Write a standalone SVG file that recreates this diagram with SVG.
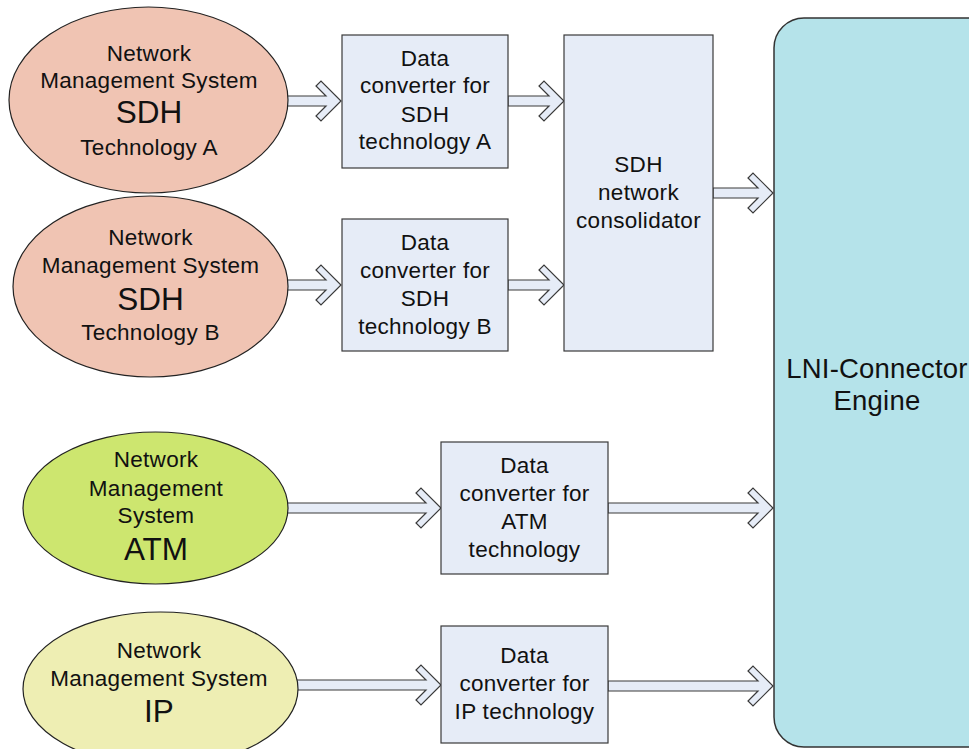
<svg xmlns="http://www.w3.org/2000/svg" width="969" height="749" viewBox="0 0 969 749">
<style>
text{font-family:"Liberation Sans",Arial,sans-serif;fill:#111;text-anchor:middle}
.s{font-size:22.5px;letter-spacing:0.3px}
.b{font-size:31.5px}
.l{font-size:27.5px;letter-spacing:0.2px}
.arr{fill:#e6ecf7;stroke:#3a3a3a;stroke-width:1.2;stroke-linejoin:miter}
.box{fill:#e6ecf7;stroke:#3a3a3a;stroke-width:1.2}
.sdh{fill:#f0c4b3;stroke:#222;stroke-width:1.2}
.atm{fill:#cde66f;stroke:#222;stroke-width:1.2}
.ip{fill:#eeeeb3;stroke:#222;stroke-width:1.2}
.lni{fill:#b5e3ea;stroke:#333;stroke-width:1.5}
</style>
<rect width="969" height="749" fill="#fff"/>
<g id="connectors">
<path class="arr" d="M280,96 L326,96 L316,86 L321,81 L341,101 L321,121 L316,116 L326,106 L280,106 Z"/>
<path class="arr" d="M508,96 L549,96 L539,86 L544,81 L564,101 L544,121 L539,116 L549,106 L508,106 Z"/>
<path class="arr" d="M280,280 L326,280 L316,270 L321,265 L341,285 L321,305 L316,300 L326,290 L280,290 Z"/>
<path class="arr" d="M508,280 L549,280 L539,270 L544,265 L564,285 L544,305 L539,300 L549,290 L508,290 Z"/>
<path class="arr" d="M713,188 L758,188 L748,178 L753,173 L773,193 L753,213 L748,208 L758,198 L713,198 Z"/>
<path class="arr" d="M280,503 L426,503 L416,493 L421,488 L441,508 L421,528 L416,523 L426,513 L280,513 Z"/>
<path class="arr" d="M608,503 L758,503 L748,493 L753,488 L773,508 L753,528 L748,523 L758,513 L608,513 Z"/>
<path class="arr" d="M290,680 L426,680 L416,670 L421,665 L441,685 L421,705 L416,700 L426,690 L290,690 Z"/>
<path class="arr" d="M608,681 L758,681 L748,671 L753,666 L773,686 L753,706 L748,701 L758,691 L608,691 Z"/>
</g>
<g id="nms-sdh-a">
<ellipse class="sdh" cx="148.5" cy="100" rx="139.5" ry="93"/>
<text class="s" x="149" y="61">Network</text>
<text class="s" x="149" y="88">Management System</text>
<text class="b" x="149" y="123">SDH</text>
<text class="s" x="149" y="155">Technology A</text>
</g>
<g id="nms-sdh-b">
<ellipse class="sdh" cx="150.5" cy="286.5" rx="137.5" ry="90.5"/>
<text class="s" x="150.5" y="245">Network</text>
<text class="s" x="150.5" y="273">Management System</text>
<text class="b" x="150.5" y="310">SDH</text>
<text class="s" x="150.5" y="340">Technology B</text>
</g>
<g id="nms-atm">
<ellipse class="atm" cx="155.5" cy="508" rx="132.5" ry="76"/>
<text class="s" x="156" y="467">Network</text>
<text class="s" x="156" y="496">Management</text>
<text class="s" x="156" y="523">System</text>
<text class="b" x="156" y="560">ATM</text>
</g>
<g id="nms-ip">
<ellipse class="ip" cx="160.5" cy="689" rx="137.5" ry="77"/>
<text class="s" x="159" y="658">Network</text>
<text class="s" x="159" y="686">Management System</text>
<text class="b" x="159" y="722">IP</text>
</g>
<g id="conv-sdh-a">
<rect class="box" x="342" y="35" width="166" height="133"/>
<text class="s" x="425" y="66">Data</text>
<text class="s" x="425" y="93">converter for</text>
<text class="s" x="425" y="122">SDH</text>
<text class="s" x="425" y="149">technology A</text>
</g>
<g id="conv-sdh-b">
<rect class="box" x="342" y="219" width="166" height="132"/>
<text class="s" x="425" y="250">Data</text>
<text class="s" x="425" y="278">converter for</text>
<text class="s" x="425" y="306">SDH</text>
<text class="s" x="425" y="334">technology B</text>
</g>
<g id="sdh-consolidator">
<rect class="box" x="564" y="35" width="149" height="316"/>
<text class="s" x="638.5" y="172">SDH</text>
<text class="s" x="638.5" y="200">network</text>
<text class="s" x="638.5" y="228">consolidator</text>
</g>
<g id="conv-atm">
<rect class="box" x="441" y="442" width="167" height="132"/>
<text class="s" x="524.5" y="473">Data</text>
<text class="s" x="524.5" y="501">converter for</text>
<text class="s" x="524.5" y="529">ATM</text>
<text class="s" x="524.5" y="557">technology</text>
</g>
<g id="conv-ip">
<rect class="box" x="441" y="626" width="167" height="117"/>
<text class="s" x="524.5" y="663">Data</text>
<text class="s" x="524.5" y="691">converter for</text>
<text class="s" x="524.5" y="719">IP technology</text>
</g>
<g id="lni-engine">
<rect class="lni" x="774" y="18" width="240" height="729" rx="30" ry="30"/>
<text class="l" x="877" y="378">LNI-Connector</text>
<text class="l" x="877" y="410">Engine</text>
</g>
</svg>
